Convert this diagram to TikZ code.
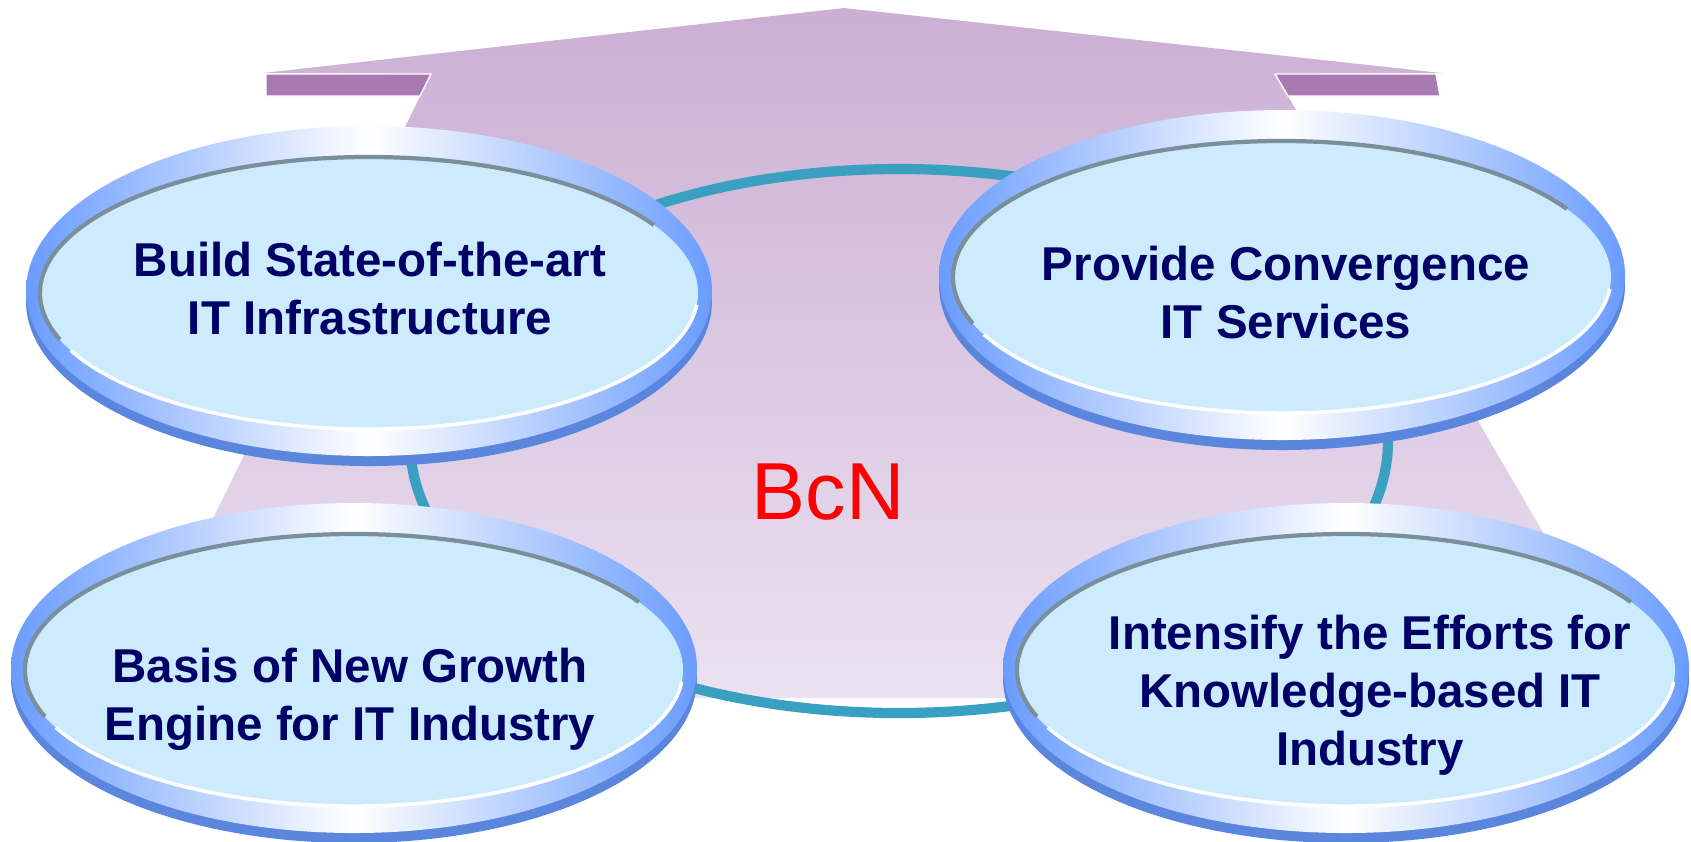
\documentclass[tikz,border=0pt]{standalone}
\usepackage{fontspec}
\setmainfont{Liberation Sans}
\usetikzlibrary{calc}
\definecolor{arrowtop}{HTML}{CBAFD4}
\definecolor{arrowbot}{HTML}{EBE1F0}
\definecolor{wingband}{HTML}{A979B2}
\definecolor{ringteal}{HTML}{3AA0C1}
\definecolor{rimblue}{HTML}{6A9CFF}
\definecolor{rimside}{HTML}{5B86DE}
\definecolor{faceblue}{HTML}{CCECFE}
\definecolor{faceedge}{HTML}{7A8F9A}
\definecolor{goalnavy}{HTML}{000066}

\begin{document}
\begin{tikzpicture}[x=0.01cm, y=0.01cm,
		goal/.style={text=goalnavy, font=\fontsize{13.5}{16.5}\selectfont\bfseries, align=center, inner sep=0pt, text depth=0pt},
		band/.style={fill=wingband, draw=white, line width=0.4pt}]
		\useasboundingbox (0,0) rectangle (1691,-841);
		\shade[top color=arrowtop, bottom color=arrowbot] (844,-8) -- (1442,-73) -- (1275,-74) -- (1640,-698) -- (125,-698) -- (431,-74) -- (263,-73) -- cycle;
		\path[band] (266,-74) -- (431,-74) -- (420,-96) -- (266,-96) -- cycle;
		\path[band] (1275,-74) -- (1436,-74) -- (1440,-96) -- (1288,-96) -- cycle;
		
		\draw[ringteal, line width=2.9pt] (899,-441) ellipse [x radius=489, y radius=272];
		
		\coordinate (dtl) at (369,-291);
		\coordinate (dtr) at (1282,-275);
		\coordinate (dbl) at (354,-668);
		\coordinate (dbr) at (1346,-668);
		\foreach \d in {dtl,dtr,dbl,dbr} {
			\fill[rimside] ($(\d)+(0,-10)$) ellipse [x radius=343, y radius=165];
			\shade[left color=rimblue, right color=rimblue, middle color=white] (\d) ellipse [x radius=343, y radius=165];
			\fill[faceblue] ($(\d)+(0,-2)$) ellipse [x radius=329, y radius=136];
			\draw[faceedge, line width=1.2pt] ($(\d)+(0,-2)+(30:329 and 136)$) arc [start angle=30, end angle=200, x radius=329, y radius=136];
			\draw[white, line width=1pt] ($(\d)+(0,-2)+(205:329 and 136)$) arc [start angle=205, end angle=355, x radius=329, y radius=136];
		}
		
		\node[goal] (build) at (370,-288) {Build State-of-the-art\\IT Infrastructure};
		\node[goal] (provide) at (1286,-292) {Provide Convergence\\IT Services};
		\node[goal] (basis) at (350,-694) {Basis of New Growth\\Engine for IT Industry};
		\node[goal] (intensify) at (1370,-690) {Intensify the Efforts for\\Knowledge-based IT\\Industry};
		\node[text=red, font=\fontsize{23}{27}\selectfont, inner sep=0pt, anchor=base] (bcn) at (828,-519) {BcN};
		
	\end{tikzpicture}
\end{document}
